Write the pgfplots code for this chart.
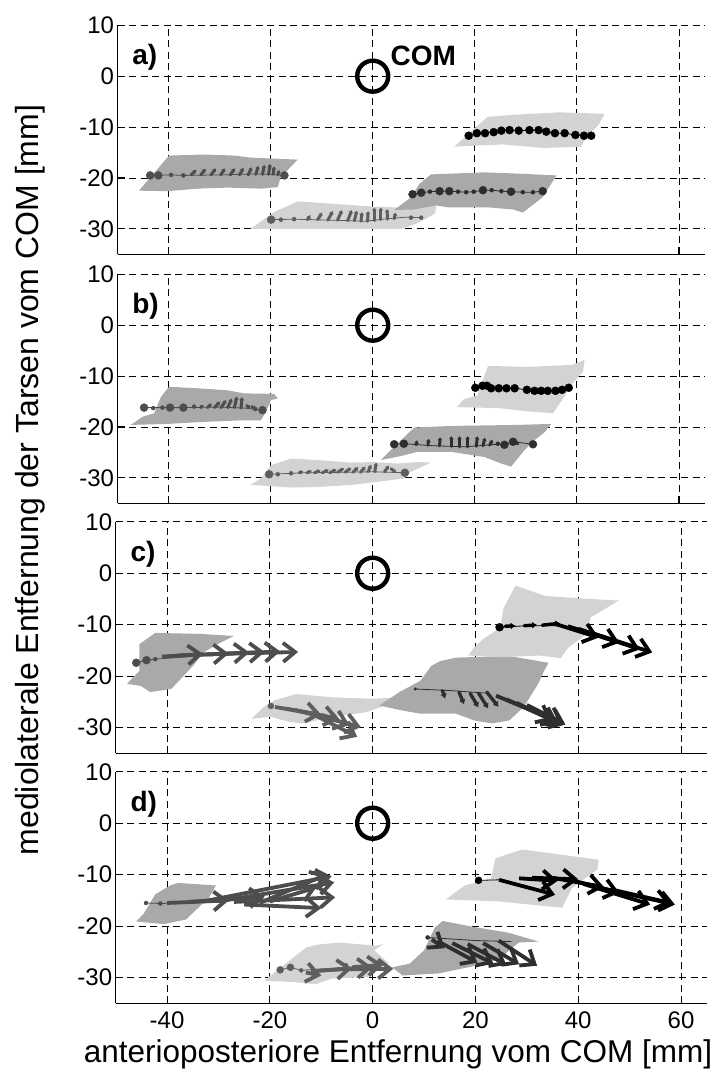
\documentclass[border=0pt]{standalone}
\usepackage{fontspec}
\setmainfont{Liberation Sans}
\usepackage{pgfplots}
\pgfplotsset{compat=1.18}
\usetikzlibrary{arrows.meta}

\definecolor{lightarea}{HTML}{D3D3D3}
\definecolor{darkarea}{HTML}{A9A9A9}
\definecolor{legA}{HTML}{4D4D4D}
\definecolor{legB}{HTML}{5E5E5E}
\definecolor{legC}{HTML}{2E2E2E}
\definecolor{legD}{HTML}{000000}

\tikzset{tag/.style={font=\fontsize{28}{28}\selectfont\bfseries, anchor=west}}

\pgfplotsset{
  panel/.style={
    scale only axis, width=587pt, height=229pt,
    xmin=-50, xmax=65, ymin=-35, ymax=10,
    axis x line*=bottom, axis y line*=left,
    axis line style={line width=1pt},
    xtick={-40,-20,0,20,40,60}, ytick={-30,-20,-10,0,10},
    yticklabels={-30,-20,-10,0,10},
    xticklabels={},
    tick align=inside, major tick length=7pt,
    tick style={line width=1pt, black},
    xmajorgrids, ymajorgrids,
    major grid style={dash pattern=on 7pt off 4.5pt, line width=0.9pt, black},
    tick label style={font=\fontsize{24}{24}\selectfont},
    xticklabel style={yshift=-5pt},
    /pgf/number format/assume math mode=true,
  },
  area/.style={draw=none, fill=#1},
  track/.style={color=#1, line width=0.8pt, mark=none},
  bigdots/.style={only marks, mark=*, mark size=4pt, color=#1},
  smalldots/.style={only marks, mark=*, mark size=2pt, color=#1},
  tinyarrows/.style={quiver={u=\thisrow{u},v=\thisrow{v}}, color=#1, line width=3pt,
    line cap=round, -{Latex[length=3pt,width=5pt]}},
  midarrows/.style={quiver={u=\thisrow{u},v=\thisrow{v}}, color=#1, line width=3.4pt,
    line cap=round, -{Latex[length=5pt,width=7pt]}},
  bigarrows/.style={quiver={u=\thisrow{u},v=\thisrow{v}}, color=#1, line width=3.8pt,
    -{Straight Barb[length=12pt,width=19pt]}},
  com/.style={only marks, mark=o, mark size=15.5pt, black, line width=4.4pt,
    mark options={line width=4.4pt}},
}

\begin{document}
\begin{tikzpicture}
\useasboundingbox (0pt,0pt) rectangle (717pt,1070pt);

% ---------------- a) ----------------
\begin{axis}[panel, at={(117.5pt,815.7pt)}, anchor=south west]
\addplot[area=darkarea] coordinates {(-45.8,-22.5) (-39.9,-15.6) (-33.0,-15.4) (-27.1,-15.6) (-23.9,-16.0) (-14.7,-16.4) (-16.7,-18.5) (-18.0,-19.8) (-18.6,-21.8) (-21.9,-22.1) (-28.4,-21.9) (-34.3,-22.1) (-40.2,-22.6)} --cycle;
\addplot[area=lightarea] coordinates {(-23.9,-30.0) (-19.3,-26.7) (-14.7,-24.6) (-7.5,-25.1) (-0.3,-25.6) (6.9,-25.9) (12.5,-25.4) (12.2,-27.0) (8.5,-29.0) (5.6,-30.0)} --cycle;
\addplot[area=darkarea] coordinates {(4.2,-26.3) (7.5,-23.8) (9.2,-21.1) (11.4,-19.3) (21.9,-18.9) (29.7,-19.2) (36.0,-19.5) (33.3,-23.8) (29.4,-26.8) (27.5,-26.2) (22.9,-25.8) (15.0,-25.8) (12.4,-25.4) (8.0,-26.2)} --cycle;
\addplot[area=lightarea] coordinates {(16.0,-13.85) (18.3,-11.7) (22.5,-8.0) (27.5,-7.6) (36.6,-7.1) (45.4,-7.4) (44.4,-9.4) (41.8,-12.0) (40.8,-13.9) (33.3,-14.1) (25.5,-13.4)} --cycle;
% leg 1
\addplot[track=legA] coordinates {(-43.6,-19.5) (-39.5,-19.4) (-37.1,-19.5) (-30,-19.4) (-23,-19.2) (-20,-19.3) (-17.3,-19.5)};
\addplot[bigdots=legA] coordinates {(-43.6,-19.5) (-42.0,-19.5) (-17.3,-19.5)};
\addplot[smalldots=legA] coordinates {(-39.5,-19.4) (-37.1,-19.5)};
\addplot[tinyarrows=legA] table[row sep=\\] {x y u v\\
-35.6 -19.4 1.1 1.0\\ -33.7 -19.4 1.0 1.2\\ -31.7 -19.4 1.0 1.3\\ -29.8 -19.4 0.9 1.3\\
-27.9 -19.4 0.9 1.3\\ -26.1 -19.4 0.8 1.4\\ -24.4 -19.4 0.7 1.5\\ -22.9 -19.3 0.5 1.7\\
-21.6 -19.3 0.4 1.9\\ -20.4 -19.3 0.3 2.1\\ -19.5 -19.3 0.2 1.6\\ -18.6 -19.4 0.3 1.0\\};
% leg 2
\addplot[track=legB] coordinates {(-19.9,-28.2) (-15.4,-28.1) (-8,-28.3) (-1.5,-28.5) (3,-28.0) (6.6,-27.7) (9.5,-27.8)};
\addplot[bigdots=legB] coordinates {(-19.9,-28.2)};
\addplot[smalldots=legB] coordinates {(-18,-28.2) (-15.4,-28.1) (7.5,-27.8) (9.5,-27.8)};
\addplot[tinyarrows=legB] table[row sep=\\] {x y u v\\
-12.8 -28.2 0.6 0.9\\ -10.8 -28.2 0.9 1.4\\ -8.8 -28.3 1.0 1.8\\ -6.9 -28.3 0.9 2.0\\
-4.9 -28.4 0.8 2.1\\ -3.6 -28.4 0.5 2.0\\ -2.3 -28.5 0.2 1.8\\ -1.0 -28.5 0.1 2.0\\
0.3 -28.4 0.0 2.6\\ 1.6 -28.2 0.0 2.4\\ 2.9 -28.1 -0.1 2.0\\ 4.2 -28.0 0.3 1.2\\};
% leg 3
\addplot[track=legC] coordinates {(7.8,-23.2) (9.5,-22.9) (11.2,-22.7) (13.1,-22.6) (15.0,-22.6) (16.7,-22.7) (18.3,-22.8) (19.8,-22.7) (21.6,-22.4) (23.3,-22.4) (25.2,-22.6) (27.1,-22.7) (29.4,-22.8) (31.4,-22.8) (33.3,-22.6)};
\addplot[bigdots=legC] coordinates {(7.8,-23.2) (9.5,-22.9) (13.1,-22.6) (15.0,-22.6) (21.6,-22.4) (27.1,-22.7) (33.3,-22.6)};
\addplot[smalldots=legC] coordinates {(11.2,-22.7) (16.7,-22.7) (18.3,-22.8) (19.8,-22.7) (23.3,-22.4) (25.2,-22.6) (29.4,-22.8) (31.4,-22.8)};
% leg 4
\addplot[track=legD] coordinates {(18.8,-11.7) (20.4,-11.2) (22.0,-11.2) (23.7,-11.0) (25.2,-10.7) (26.8,-10.6) (28.6,-10.7) (30.7,-10.6) (32.5,-10.6) (34.0,-10.9) (35.7,-11.2) (37.6,-11.2) (39.7,-11.55) (41.4,-11.7) (42.8,-11.7)};
\addplot[bigdots=legD] coordinates {(18.8,-11.7) (20.4,-11.2) (22.0,-11.2) (23.7,-11.0) (25.2,-10.7) (26.8,-10.6) (28.6,-10.7) (30.7,-10.6) (32.5,-10.6) (34.0,-10.9) (35.7,-11.2) (37.6,-11.2) (39.7,-11.55) (41.4,-11.7) (42.8,-11.7)};
\addplot[com] coordinates {(0,0)};
\node[tag] at (axis cs:-47.8,3.7) {a)};
\node[tag] at (axis cs:2.8,3.9) {COM};
\end{axis}

% ---------------- b) ----------------
\begin{axis}[panel, at={(117.5pt,566.7pt)}, anchor=south west]
\addplot[area=darkarea] coordinates {(-47.4,-19.6) (-45.1,-18.0) (-42.8,-17.3) (-41.5,-14.1) (-39.9,-12.1) (-34.3,-12.4) (-28.4,-12.8) (-25.2,-13.4) (-19.3,-13.5) (-18.6,-14.4) (-19.9,-14.7) (-20.9,-17.0) (-21.9,-18.7) (-25.8,-18.7) (-33.0,-19.0) (-40.2,-19.4)} --cycle;
\addplot[area=lightarea] coordinates {(-23.9,-31.4) (-21.9,-30.1) (-19.9,-27.5) (-16.0,-26.2) (-10.8,-26.5) (-4.25,-27.0) (0,-26.9) (4.9,-27.2) (8.8,-26.9) (11.4,-27.0) (7.5,-28.8) (6.2,-30.1) (2.3,-30.6) (-4.25,-31.4) (-10.8,-31.8) (-16.0,-31.9)} --cycle;
\addplot[area=darkarea] coordinates {(1.6,-26.5) (4.2,-23.9) (7.2,-21.0) (8.2,-20.1) (15.4,-19.8) (21.9,-19.7) (28.4,-19.6) (35.0,-19.4) (33.7,-21.0) (31.7,-22.6) (29.7,-24.6) (27.1,-27.8) (25.2,-27.2) (21.9,-25.9) (15.4,-24.9) (8.8,-24.9) (5.6,-25.7)} --cycle;
\addplot[area=lightarea] coordinates {(16.5,-16.1) (17.8,-14.6) (20.5,-13.8) (21.5,-11.0) (22.6,-8.0) (30,-8.2) (39.2,-7.8) (41.5,-6.8) (41.2,-9.1) (39.2,-11.4) (37.3,-14.4) (35.3,-17.3) (30,-16.9) (24.8,-16.3)} --cycle;
% leg 1
\addplot[track=legA] coordinates {(-44.8,-16.2) (-41.2,-16.2) (-37.1,-16.2) (-30,-16.1) (-25,-16.3) (-21.6,-16.7)};
\addplot[bigdots=legA] coordinates {(-44.8,-16.2) (-39.7,-16.2) (-37.1,-16.2) (-21.6,-16.7)};
\addplot[smalldots=legA] coordinates {(-43.0,-16.3) (-41.2,-16.2) (-35.0,-16.0) (-23,-16.5)};
\addplot[tinyarrows=legA] table[row sep=\\] {x y u v\\
-33.7 -16.2 0.6 0.5\\ -32.4 -16.2 0.9 0.8\\ -31.0 -16.2 1.1 1.2\\ -29.7 -16.2 1.0 1.5\\
-28.4 -16.2 0.8 1.8\\ -27.1 -16.2 0.5 2.2\\ -25.8 -16.3 0.2 2.2\\ -24.7 -15.8 0.8 -0.6\\ -23.7 -16.0 0.9 -0.5\\};
% leg 2
\addplot[track=legB] coordinates {(-20.3,-29.3) (-13.5,-29.0) (-5,-28.9) (0,-28.8) (6.3,-29.0)};
\addplot[bigdots=legB] coordinates {(-20.3,-29.3) (6.3,-29.0)};
\addplot[smalldots=legB] coordinates {(-18.6,-29.3) (-16,-29.1)};
\addplot[tinyarrows=legB] table[row sep=\\] {x y u v\\
-14.4 -29.0 0.8 0.3\\ -12.9 -29.0 1.0 0.4\\ -11.4 -29.0 1.2 0.5\\ -9.9 -29.0 1.3 0.6\\
-8.4 -29.0 1.3 0.7\\ -6.9 -28.9 1.3 0.8\\ -5.4 -28.9 1.2 0.9\\ -3.9 -28.9 1.1 1.0\\
-2.4 -28.9 1.0 1.1\\ -0.9 -28.8 0.6 1.4\\ 0.4 -28.8 0.3 1.8\\ 2.3 -28.8 0.9 1.2\\ 3.6 -28.2 1.0 -0.8\\};
% leg 3
\addplot[track=legC] coordinates {(4.2,-23.4) (6.1,-23.3) (12,-23.7) (18,-23.9) (24.5,-23.4) (25.8,-23.5) (27.5,-22.9) (31.4,-23.4)};
\addplot[bigdots=legC] coordinates {(4.2,-23.4) (6.1,-23.3) (25.8,-23.5) (27.5,-22.9) (31.4,-23.4)};
\addplot[smalldots=legC] coordinates {(24.5,-23.3)};
\addplot[tinyarrows=legC] table[row sep=\\] {x y u v\\
8.5 -23.5 0.2 0.9\\ 10.8 -23.6 0.2 1.3\\ 13.1 -23.7 0.1 1.7\\ 15.4 -23.8 0.0 2.0\\
17.0 -23.9 0.0 2.1\\ 18.6 -23.9 0.0 2.1\\ 20.3 -23.8 0.2 2.0\\ 21.6 -23.7 0.4 1.6\\
22.9 -23.6 0.6 1.1\\ 28.4 -23.3 -0.7 0.6\\};
% leg 4
\addplot[track=legD] coordinates {(20.1,-12.3) (21.5,-11.9) (22.4,-11.9) (23.2,-12.4) (24.7,-12.4) (26.2,-12.4) (27.8,-12.4) (30.2,-12.7) (31.7,-12.9) (33.0,-12.9) (34.3,-12.9) (35.8,-12.9) (37.1,-12.7) (38.4,-12.3)};
\addplot[bigdots=legD] coordinates {(20.1,-12.3) (21.5,-11.9) (22.4,-11.9) (23.2,-12.4) (24.7,-12.4) (26.2,-12.4) (27.8,-12.4) (30.2,-12.7) (31.7,-12.9) (33.0,-12.9) (34.3,-12.9) (35.8,-12.9) (37.1,-12.7) (38.4,-12.3)};
\addplot[com] coordinates {(0,0)};
\node[tag] at (axis cs:-47.8,3.7) {b)};
\end{axis}

% ---------------- c) ----------------
\begin{axis}[panel, width=591pt, height=231.5pt, at={(115.7pt,316.7pt)}, anchor=south west]
\addplot[area=darkarea] coordinates {(-47.8,-21.5) (-45.4,-19.0) (-45.4,-13.8) (-42.3,-11.6) (-33.3,-11.8) (-27.0,-12.2) (-30.2,-13.8) (-32.9,-15.4) (-34.7,-17.7) (-37.1,-20.3) (-39.2,-22.5) (-43.3,-23.1) (-45.1,-21.9)} --cycle;
\addplot[area=lightarea] coordinates {(-23.6,-28.3) (-21.2,-26.0) (-19.1,-24.7) (-14.9,-23.5) (-8.0,-24.1) (-0.4,-24.4) (4.5,-24.2) (2.4,-25.7) (-1.1,-27.0) (-8.0,-27.9) (-13.5,-29.2) (-16.3,-28.9) (-19.8,-27.9)} --cycle;
\addplot[area=darkarea] coordinates {(1.3,-25.7) (5.2,-23.1) (9.3,-20.9) (11.4,-18.0) (13.1,-17.1) (16.2,-16.4) (26.6,-16.1) (34.2,-17.4) (33.2,-19.3) (32.2,-21.5) (29.4,-26.0) (26.6,-28.6) (23.2,-29.2) (19.7,-28.6) (16.2,-27.3) (9.3,-27.3) (5.8,-26.7)} --cycle;
\addplot[area=lightarea] coordinates {(18.6,-16.0) (19.7,-14.5) (21.5,-12.8) (24.8,-10.6) (25.5,-6.7) (27.8,-2.4) (33.5,-4.4) (40.5,-4.9) (47.9,-5.3) (42.4,-8.6) (41.5,-11.9) (38.0,-14.5) (36.6,-16.5) (32.6,-16.0) (25,-16.3)} --cycle;
% leg 1
\addplot[track=legA] coordinates {(-46,-17.4) (-44,-16.9) (-42.3,-16.7) (-30,-15.8) (-15,-15.3)};
\addplot[bigdots=legA] coordinates {(-46,-17.4) (-44,-16.9)};
\addplot[smalldots=legA] coordinates {(-42.3,-16.7)};
\addplot[bigarrows=legA] table[row sep=\\] {x y u v\\
-41 -16.2 8 0.5\\ -38 -16.0 10 0.4\\ -35 -15.9 11 0.5\\ -32 -15.8 11 0.5\\ -29 -15.7 11 0.5\\ -26 -15.6 11.5 0.3\\};
% leg 2
\addplot[bigdots=legB, mark size=3pt] coordinates {(-19.8,-25.8)};
\addplot[bigarrows=legB] table[row sep=\\] {x y u v\\
-19 -26.0 9 -1.5\\ -17 -26.3 10.5 -2.0\\ -15 -26.6 12.7 -3.3\\ -12 -27.2 9 -4.6\\ -10 -27.5 5.5 -2.0\\};
% leg 3
\addplot[track=legC] coordinates {(8.3,-22.5) (15,-22.8) (22,-23.3)};
\addplot[smalldots=legC, mark size=1.3pt] coordinates {(8.3,-22.5)};
\addplot[midarrows=legC] table[row sep=\\] {x y u v\\
13.6 -22.8 0.5 -1.6\\ 16.8 -23.1 1.0 -2.4\\ 19.0 -23.4 1.6 -2.7\\ 20.6 -23.3 1.9 -3.0\\ 22.2 -23.1 2.3 -2.9\\};
\addplot[bigarrows=legC] table[row sep=\\] {x y u v\\
24 -23.8 13.5 -5.6\\ 26 -24.5 10 -4.5\\ 28 -25.2 7 -3.4\\ 30 -25.6 7 -3.5\\};
% leg 4
\addplot[track=legD] coordinates {(24.7,-10.5) (30,-10.2) (37.5,-10.2)};
\addplot[bigdots=legD] coordinates {(24.7,-10.5)};
\addplot[midarrows=legD] table[row sep=\\] {x y u v\\
25.8 -10.3 2 0.1\\ 29.5 -10.2 2.5 0.15\\ 33 -10.1 3.5 0.4\\};
\addplot[bigarrows=legD] table[row sep=\\] {x y u v\\
36 -10.0 8 -2.5\\ 38 -10.3 10 -3.2\\ 40 -10.8 12 -4.0\\ 42 -11.4 12.4 -4.0\\};
\addplot[com] coordinates {(0,0)};
\node[tag] at (axis cs:-47.8,3.7) {c)};
\end{axis}

% ---------------- d) ----------------
\begin{axis}[panel, width=591pt, height=231.5pt, at={(115.7pt,66.7pt)}, anchor=south west,
  xticklabels={-40,-20,0,20,40,60}]
\addplot[area=darkarea] coordinates {(-46.0,-19.1) (-44.5,-17.5) (-42.3,-13.8) (-39.2,-12.0) (-37.9,-11.6) (-30.5,-12.1) (-31.8,-14.4) (-34,-16.5) (-36.3,-18.7) (-40.6,-19.6)} --cycle;
\addplot[area=lightarea] coordinates {(-21.1,-30.6) (-17.7,-27.9) (-13.0,-24.2) (-10.8,-23.6) (-6.5,-23.2) (0.6,-23.8) (2.1,-23.5) (0.3,-24.7) (3.1,-27.2) (-1.0,-29.9) (-8.0,-30.2) (-11.1,-31.3) (-14.9,-30.9)} --cycle;
\addplot[area=darkarea] coordinates {(3.8,-28.0) (7.2,-27.3) (10.0,-24.7) (12.1,-20.3) (13.6,-19.0) (18.8,-20.0) (26.5,-21.3) (32.3,-23.0) (28.4,-23.2) (24.6,-26.4) (19.1,-27.9) (12.8,-29.2) (5.8,-29.6)} --cycle;
\addplot[area=lightarea] coordinates {(14.2,-14.8) (18.1,-12.0) (23.0,-10.9) (23.9,-6.8) (29.1,-5.1) (44.0,-7.1) (43.7,-9.0) (38.8,-12.6) (36.9,-16.4) (33.6,-16.1) (24.6,-15.2)} --cycle;
% leg 1
\addplot[track=legA] coordinates {(-44.1,-15.5) (-41.3,-15.6) (-38,-15.5)};
\addplot[smalldots=legA] coordinates {(-44.1,-15.5) (-41.3,-15.6)};
\addplot[bigarrows=legA] table[row sep=\\] {x y u v\\
-40 -15.5 12 0.5\\ -36 -15.3 15 1.0\\ -33 -15.2 25 4.9\\ -30 -15.2 22.5 3.7\\
-27 -15.3 19.7 0.9\\ -25 -15.8 15 -0.7\\ -22 -15.5 13 5.5\\ -20 -15.2 9 2.7\\};
% leg 2
\addplot[track=legB] coordinates {(-18,-28.5) (-16,-28.0) (-13.9,-28.6) (-10,-28.3)};
\addplot[bigdots=legB, mark size=3.5pt] coordinates {(-18,-28.5) (-16,-28.0)};
\addplot[smalldots=legB] coordinates {(-13.9,-28.6) (-5.2,-27.6)};
\addplot[bigarrows=legB] table[row sep=\\] {x y u v\\
-12 -28.8 8 0.6\\ -10 -28.6 10 0.6\\ -7 -28.4 11 0.1\\ -4 -28.0 6 0.5\\ -13 -29.0 3 -0.6\\};
% leg 3
\addplot[track=legC] coordinates {(10.7,-22.2) (20,-22.8) (27,-23.0)};
\addplot[smalldots=legC] coordinates {(10.7,-22.2)};
\addplot[bigarrows=legC] table[row sep=\\] {x y u v\\
11.5 -22.6 2.5 -1.7\\ 12.6 -22.9 7.8 -4.2\\ 15.5 -23.3 8 -4.0\\ 18.5 -23.5 7.5 -4.0\\
21.5 -23.3 7 -4.1\\ 24.5 -22.8 7.5 -4.9\\};
% leg 4
\addplot[track=legD] coordinates {(20.6,-11.1) (24.6,-11.0)};
\addplot[bigdots=legD, mark size=3.5pt] coordinates {(20.6,-11.1)};
\addplot[bigarrows=legD] table[row sep=\\] {x y u v\\
24.6 -11.0 10.9 -2.9\\ 28.5 -10.7 7.5 -0.5\\ 31 -10.6 9 -0.3\\ 35 -10.6 10 -1.8\\
38 -10.9 10 -2.6\\ 41 -11.8 13 -4.0\\ 44 -12.5 14.8 -3.3\\ 47 -13.0 11 -2.5\\};
\addplot[com] coordinates {(0,0)};
\node[tag] at (axis cs:-47.8,3.7) {d)};
\end{axis}

\node[rotate=90, font=\fontsize{32}{32}\selectfont] at (30pt,590pt) {mediolaterale Entfernung der Tarsen vom COM [mm]};
\node[anchor=base, font=\fontsize{31.5}{31.5}\selectfont] at (398pt,7pt) {anterioposteriore Entfernung vom COM [mm]};
\end{tikzpicture}
\end{document}
